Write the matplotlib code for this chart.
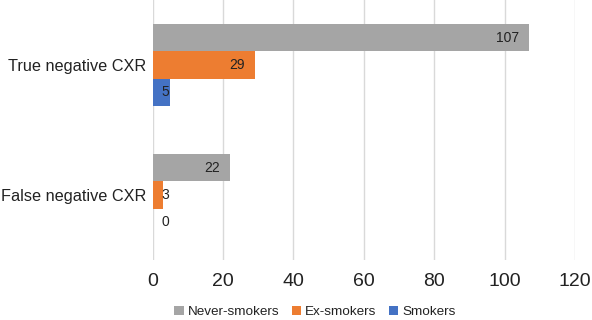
import matplotlib
matplotlib.use("Agg")
import matplotlib.pyplot as plt
import numpy as np

categories = ["True negative CXR", "False negative CXR"]
series_names = ["Never-smokers", "Ex-smokers", "Smokers"]
never_smokers = [107, 22]
ex_smokers = [29, 3]
smokers = [5, 0]
colors = ["#A5A5A5", "#ED7D31", "#4472C4"]
x_ticks = [0, 20, 40, 60, 80, 100, 120]

plt.rcParams['font.family'] = ['Liberation Sans', 'DejaVu Sans']

fig = plt.figure(figsize=(5.92, 3.2), dpi=100)
ax = fig.add_axes([152.5/592, 1-260/320, (575-152.5)/592, 260/320])

h = 0.208
y = np.arange(len(categories))
all_series = [never_smokers, ex_smokers, smokers]
for k, (vals, name, c) in enumerate(zip(all_series, series_names, colors)):
    ypos = y + (k - 1) * h
    ax.barh(ypos, vals, height=h, color=c, label=name, zorder=3)
    for yy, v in zip(ypos, vals):
        if v >= 8:
            ax.annotate(str(v), xy=(v, yy), xytext=(-7, 0), textcoords='offset points',
                        ha='right', va='center', fontsize=10, color='#222222', zorder=4)
        else:
            ax.annotate(str(v), xy=(0, yy), xytext=(6.5, 0), textcoords='offset points',
                        ha='left', va='center', fontsize=10, color='#222222', zorder=4)

ax.set_xlim(0, 120)
ax.set_ylim(1.5, -0.5)
ax.set_xticks(x_ticks)
ax.set_yticks(y)
ax.set_yticklabels(categories)
ax.tick_params(axis='x', length=0, pad=9, labelsize=14, colors='#222222')
ax.tick_params(axis='y', length=0, pad=4.5, labelsize=11.7, colors='#222222')
ax.grid(axis='x', color='#D9D9D9', linewidth=1, zorder=0)
for s in ax.spines.values():
    s.set_visible(False)

handles, labels = ax.get_legend_handles_labels()
fig.legend(handles, labels, loc='center', bbox_to_anchor=(315/592, 1-312/320), ncol=3,
           frameon=False, fontsize=9.7, handlelength=0.7, handleheight=0.7,
           handletextpad=0.3, columnspacing=0.9, labelcolor='#222222')

fig.savefig("out.png", dpi=100)
